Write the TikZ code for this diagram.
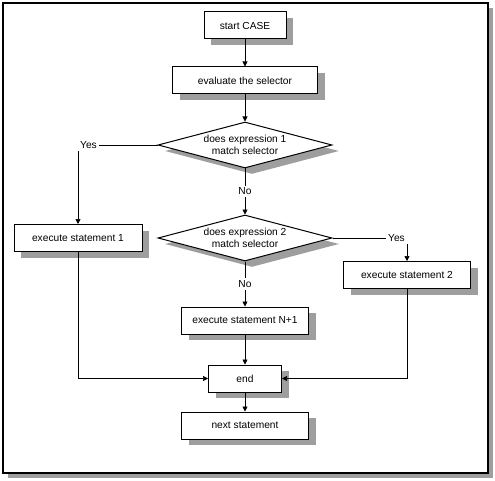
\documentclass[tikz,border=0pt]{standalone}
\usepackage{fontspec}
\setmainfont{Liberation Sans}
\usetikzlibrary{arrows.meta,positioning,shapes.geometric,shadows,calc}

\begin{document}
\begin{tikzpicture}[
  x=1pt, y=-1pt,
  font=\fontsize{10.2}{12}\selectfont,
  dropshade/.style={drop shadow={shadow xshift=7pt,shadow yshift=-6pt,fill=black!38,opacity=1}},
  box/.style={draw,line width=1pt,fill=white,dropshade,minimum height=27pt,inner sep=2pt},
  test/.style={draw,line width=1pt,fill=white,dropshade,shape=diamond,aspect=3.75,inner sep=0pt,minimum width=174pt,minimum height=46pt,align=center},
  lbl/.style={inner sep=2pt},
  arr/.style={-{Triangle[length=5pt,width=5pt]},line width=0.7pt},
  line/.style={line width=0.7pt}
]
\useasboundingbox (0,0) rectangle (495,481);
\fill[black!38] (8,8) rectangle (493,478);
\draw[line width=2.5pt,fill=white] (3,3) rectangle (488,473);

\node[box,minimum width=82pt] (start) at (245,25.5) {start CASE};
\node[box,minimum width=145pt,below=27pt of start] (eval) {evaluate the selector};
\node[test,below=27pt of eval] (d1) {does expression 1\\match selector};
\node[test,below=46pt of d1] (d2) {does expression 2\\match selector};
\node[box,minimum width=128pt,left=15pt of d2] (exec1) {execute statement 1};
\node[box,minimum width=127pt] (exec2) at (407,275) {execute statement 2};
\node[box,minimum width=127pt,below=45pt of d2] (n1) {execute statement N+1};
\node[box,minimum width=73pt,below=30pt of n1] (finish) {end};
\node[box,minimum width=127pt,below=19pt of finish] (nextst) {next statement};

\node[lbl,anchor=west] (yes1) at (exec1.north |- d1.west) {Yes};
\node[lbl,anchor=east] (yes2) at (exec2.north |- d2.east) {Yes};
\node[lbl] (no1) at ($(d1.south)!0.5!(d2.north)$) {No};
\node[lbl] (no2) at ($(d2.south)!0.5!(n1.north)$) {No};

\draw[arr] (start) -- (eval);
\draw[arr] (eval) -- (d1);
\draw[line] (d1.west) -- (yes1.east);
\draw[arr] (exec1.north |- yes1.south) -- (exec1.north);
\draw[line] (d1.south) -- (no1);
\draw[arr] (no1) -- (d2);
\draw[line] (d2.east) -- (yes2.west);
\draw[arr] (exec2.north |- yes2.south) -- (exec2.north);
\draw[line] (d2.south) -- (no2);
\draw[arr] (no2) -- (n1);
\draw[arr] (n1) -- (finish);
\draw[arr] (exec1.south) |- (finish.west);
\draw[arr] (exec2.south) |- (finish.east);
\draw[arr] (finish) -- (nextst);
\end{tikzpicture}
\end{document}
